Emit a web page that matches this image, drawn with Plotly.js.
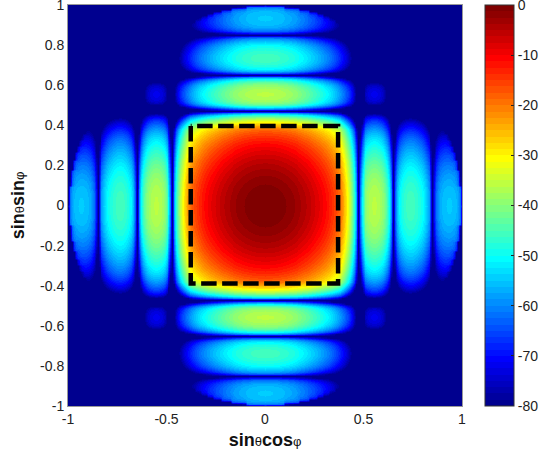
<!DOCTYPE html>
<html>
<head>
<meta charset="utf-8">
<script src="https://cdn.plot.ly/plotly-3.0.1.min.js"></script>
<style>html,body{margin:0;padding:0;background:#fff}</style>
</head>
<body>
<div id="chart" style="width:551px;height:454px"></div>
<script>
// Pattern cut in dB, at |sin| = 0, 0.01, 0.02 ... 1.00
const profileDb = [
  0,-0.01,-0.05,-0.1,-0.18,-0.28,-0.41,-0.55,-0.72,-0.92,
  -1.13,-1.37,-1.63,-1.91,-2.21,-2.54,-2.89,-3.27,-3.66,-4.08,
  -4.52,-4.99,-5.5,-6,-6.6,-7.2,-7.8,-8.4,-9,-9.7,
  -10.4,-11.2,-12,-13,-14,-15,-16.1,-17.4,-19,-22,
  -25,-28.5,-32,-36,-41,-47,-57,-90,-61,-51,
  -44,-40,-38,-37,-36.4,-36,-36,-36.4,-37,-38,
  -39.5,-42,-45,-50,-59,-90,-63,-55,-51,-49,
  -47.5,-46.5,-45.8,-45.5,-45.5,-45.7,-46.3,-47,-48,-49,
  -50.5,-52.5,-55,-58,-64,-90,-69,-62,-59,-57,
  -56,-55.3,-54.9,-54.6,-54.5,-54.5,-54.6,-54.8,-55,-55.5,-56
];
// Fall-off along each sidelobe's length, at offset 0, 0.01 ... 0.47 from its middle
const lobeLengthDb = [
  0,-0.02,-0.06,-0.13,-0.23,-0.36,-0.5,-0.68,-0.9,-1.15,
  -1.45,-1.75,-2.1,-2.45,-2.85,-3.3,-3.8,-4.3,-4.85,-5.4,
  -6,-6.6,-7.3,-8,-8.7,-9.4,-10.1,-10.9,-11.7,-12.5,
  -13.4,-14.3,-15.2,-16.2,-17.3,-18.5,-19.8,-21.2,-22.7,-24.3,
  -26,-27.8,-29.8,-32,-35,-39,-47,-90
];
// Extra fall-off towards the visible-region rim, at radius 0.90, 0.91 ... 1.00
const rimDb = [0,0,-0.1,-0.2,-0.3,-0.5,-0.8,-1.3,-2.5,-6,-20];
const squareX = [-0.377,-0.377,0.371,0.371,-0.377];
const squareY = [0.397,-0.389,-0.389,0.397,0.397];
const xTicks = [-1,-0.5,0,0.5,1];
const xTickText = ['-1','-0.5','0','0.5','1'];
const yTicks = [-1,-0.8,-0.6,-0.4,-0.2,0,0.2,0.4,0.6,0.8,1];
const yTickText = ['-1','-0.8','-0.6','-0.4','-0.2','0','0.2','0.4','0.6','0.8','1'];
const barTicks = [0,-10,-20,-30,-40,-50,-60,-70,-80];
const barTickText = ['0','-10','-20','-30','-40','-50','-60','-70','-80'];
const floorDb = -80;

// axis grid mirrors the cuts to both signs
const idx = [];
for (let i = -100; i <= 100; i++) idx.push(i);
const axisVals = idx.map(i => i / 100);
const mainEdge = lobeLengthDb.length - 1;
const z = idx.map(j => idx.map(i => {
  const r2 = i * i + j * j;
  if (r2 > 10000) return floorDb;
  const rIdx = Math.round(Math.sqrt(r2)) - 90;
  const rim = rIdx >= 0 ? rimDb[rIdx] : 0;
  const a = Math.abs(i), b = Math.abs(j);
  let v;
  if (a >= mainEdge && b < mainEdge) v = profileDb[a] + lobeLengthDb[b];
  else if (b >= mainEdge && a < mainEdge) v = profileDb[b] + lobeLengthDb[a];
  else v = profileDb[a] + profileDb[b];
  return Math.max(floorDb, v + rim);
}));

// 64-level jet colour map
function rampAt(k){ return k < 1 || k > 47 ? 0 : k <= 16 ? k / 16 : k <= 31 ? 1 : (48 - k) / 16; }
const scale = [];
for (let i = 1; i <= 64; i++) {
  const c = 'rgb(' + Math.round(255 * (i >= 25 ? rampAt(i - 24) : 0)) + ',' +
    Math.round(255 * rampAt(i - 8)) + ',' + Math.round(255 * rampAt(i + 8)) + ')';
  scale.push([(i - 1) / 64, c], [i / 64, c]);
}

const fontFam = '"Liberation Sans", Arial, sans-serif';
const sym = s => "<span style='font-weight:normal;font-size:13px'>" + s + "</span>";

const traces = [{
  type: 'heatmap', x: axisVals, y: axisVals, z: z,
  zmin: -80, zmax: 0, zsmooth: 'best', colorscale: scale, hoverinfo: 'skip',
  colorbar: {
    x: 1.0585, xanchor: 'left', xpad: 0, y: 0.5, yanchor: 'middle', ypad: 0,
    len: 1, lenmode: 'fraction', thickness: 29, thicknessmode: 'pixels',
    outlinecolor: '#333', outlinewidth: 1,
    tickmode: 'array', tickvals: barTicks, ticktext: barTickText,
    ticks: 'inside', ticklen: 3, tickcolor: '#222', ticklabeloverflow: 'allow',
    tickfont: {family: fontFam, size: 14, color: '#222'}
  }
}, {
  type: 'scatter', mode: 'lines', x: squareX, y: squareY, hoverinfo: 'skip', showlegend: false,
  line: {color: '#000', width: 4.5, dash: '15.5px,5.5px'}
}];

const layout = {
  width: 551, height: 454,
  margin: {l: 68, r: 89, t: 5, b: 48},
  paper_bgcolor: '#fff', plot_bgcolor: '#00008f',
  showlegend: false,
  font: {family: fontFam, size: 14, color: '#222'},
  xaxis: {
    range: [-1, 1], tickmode: 'array', tickvals: xTicks, ticktext: xTickText,
    ticks: '', showgrid: false, zeroline: false, showline: true, mirror: true,
    linecolor: '#999', linewidth: 1, ticklabeloverflow: 'allow',
    tickfont: {size: 14, family: fontFam, color: '#222'},
    title: {text: '<b>sin' + sym('θ') + 'cos' + sym('φ') + '</b>', standoff: 7,
      font: {size: 18, family: fontFam, color: '#111'}}
  },
  yaxis: {
    range: [-1, 1], tickmode: 'array', tickvals: yTicks, ticktext: yTickText,
    ticks: '', showgrid: false, zeroline: false, showline: true, mirror: true,
    linecolor: '#999', linewidth: 1, ticklabeloverflow: 'allow',
    tickfont: {size: 14, family: fontFam, color: '#222'},
    title: {text: '<b>sin' + sym('θ') + 'sin' + sym('φ') + '</b>', standoff: 10,
      font: {size: 18, family: fontFam, color: '#111'}}
  },
  shapes: barTicks.map(t => ({
    type: 'line', xref: 'paper', yref: 'y',
    x0: 1.0585, x1: 1.0585 + 3 / 394, y0: 1 + t / 40, y1: 1 + t / 40,
    line: {color: '#222', width: 1}
  }))
};

Plotly.newPlot('chart', traces, layout, {displayModeBar: false, staticPlot: true});
</script>
</body>
</html>
